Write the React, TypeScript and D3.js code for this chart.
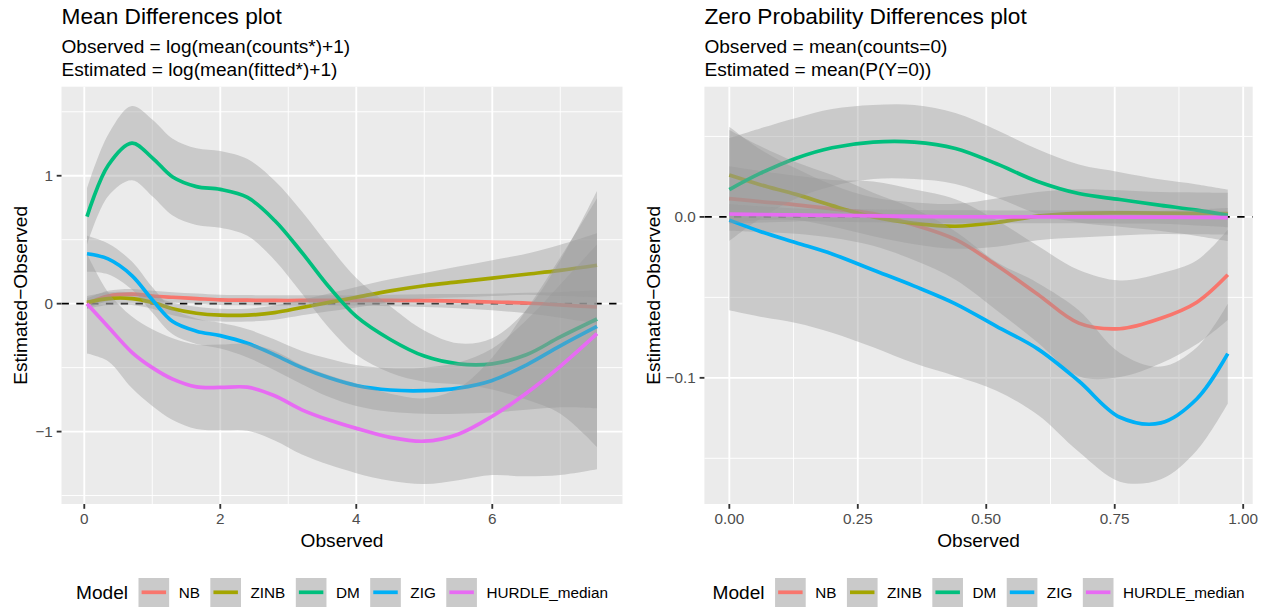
import React from "react";
import * as d3 from "d3";

// ---------- data ----------
const MODELS = ["NB", "ZINB", "DM", "ZIG", "HURDLE_median"];
const COLORS = ["#F8766D", "#A3A500", "#00BF7D", "#00B0F6", "#E76BF3"];

// Left panel: Mean Differences
const leftObserved = [0.04, 0.35, 0.7, 1.0, 1.3, 1.65, 2.0, 2.4, 2.8, 3.2, 3.6, 4.0, 4.5, 5.0, 5.5, 6.0, 6.5, 7.0, 7.54];
const leftNB = [0.0, 0.06, 0.075, 0.06, 0.05, 0.04, 0.03, 0.027, 0.025, 0.025, 0.025, 0.025, 0.025, 0.024, 0.02, 0.013, 0.005, -0.01, -0.026];
const leftNBBand = [0.04, 0.04, 0.04, 0.04, 0.04, 0.04, 0.04, 0.04, 0.04, 0.04, 0.04, 0.04, 0.045, 0.05, 0.055, 0.065, 0.08, 0.1, 0.13];
const leftZINB = [0.01, 0.04, 0.04, 0.01, -0.04, -0.075, -0.09, -0.09, -0.07, -0.03, 0.01, 0.05, 0.1, 0.14, 0.17, 0.2, 0.23, 0.26, 0.3];
const leftZINBBand = [0.05, 0.05, 0.05, 0.05, 0.05, 0.05, 0.05, 0.05, 0.055, 0.06, 0.07, 0.08, 0.09, 0.1, 0.12, 0.14, 0.16, 0.2, 0.25];
const leftDM = [0.68, 1.08, 1.255, 1.14, 0.99, 0.915, 0.893, 0.83, 0.65, 0.4, 0.13, -0.1, -0.28, -0.41, -0.47, -0.47, -0.4, -0.26, -0.12];
const leftDMBand = [0.22, 0.24, 0.29, 0.3, 0.3, 0.3, 0.3, 0.3, 0.31, 0.32, 0.32, 0.3, 0.26, 0.2, 0.16, 0.2, 0.35, 0.6, 1.0];
const leftZIG = [0.39, 0.35, 0.22, 0.03, -0.14, -0.215, -0.25, -0.31, -0.4, -0.5, -0.58, -0.64, -0.675, -0.68, -0.66, -0.6, -0.48, -0.33, -0.178];
const leftZIGBand = [0.14, 0.12, 0.11, 0.1, 0.1, 0.1, 0.1, 0.11, 0.12, 0.13, 0.15, 0.16, 0.17, 0.18, 0.2, 0.25, 0.35, 0.48, 0.64];
const leftHurdle = [0.0, -0.18, -0.38, -0.5, -0.59, -0.65, -0.655, -0.653, -0.72, -0.83, -0.91, -0.975, -1.045, -1.075, -1.02, -0.88, -0.7, -0.49, -0.235];
const leftHurdleBand = [0.39, 0.27, 0.28, 0.3, 0.32, 0.33, 0.335, 0.34, 0.35, 0.35, 0.35, 0.35, 0.34, 0.335, 0.36, 0.46, 0.65, 0.85, 1.06];

// Right panel: Zero Probability Differences
const rightObserved = [0, 0.06, 0.13, 0.2, 0.28, 0.36, 0.44, 0.52, 0.6, 0.68, 0.76, 0.84, 0.91, 0.97];
const rightNB = [0.0114, 0.0095, 0.0075, 0.005, 0.002, -0.005, -0.014, -0.03, -0.048, -0.066, -0.0695, -0.063, -0.053, -0.036];
const rightNBBand = [0.02, 0.019, 0.018, 0.018, 0.02, 0.022, 0.025, 0.028, 0.03, 0.033, 0.03, 0.028, 0.026, 0.028];
const rightZINB = [0.026, 0.02, 0.014, 0.007, 0.0, -0.004, -0.0058, -0.0035, 0.0005, 0.0022, 0.0025, 0.0024, 0.0022, 0.002];
const rightZINBBand = [0.03, 0.022, 0.016, 0.013, 0.012, 0.013, 0.014, 0.015, 0.015, 0.015, 0.014, 0.013, 0.013, 0.013];
const rightDM = [0.017, 0.027, 0.0365, 0.043, 0.0465, 0.0465, 0.0425, 0.033, 0.022, 0.0145, 0.0108, 0.0072, 0.0042, 0.001];
const rightDMBand = [0.032, 0.028, 0.025, 0.024, 0.023, 0.023, 0.022, 0.021, 0.02, 0.018, 0.017, 0.016, 0.016, 0.016];
const rightZIG = [-0.002, -0.009, -0.016, -0.023, -0.033, -0.043, -0.054, -0.068, -0.082, -0.102, -0.1245, -0.128, -0.113, -0.085];
const rightZIGBand = [0.056, 0.053, 0.05, 0.049, 0.048, 0.048, 0.045, 0.04, 0.041, 0.044, 0.04, 0.035, 0.032, 0.031];
const rightHurdle = [0.0018, 0.0015, 0.0012, 0.001, 0.0006, 0.0003, 0.0001, 0, 0, 0, -0.0001, -0.0002, -0.0003, -0.0004];
const rightHurdleBand = [0.006, 0.005, 0.004, 0.004, 0.004, 0.004, 0.004, 0.004, 0.004, 0.004, 0.004, 0.004, 0.005, 0.006];

const leftXTicks = [0, 2, 4, 6];
const leftXMinor = [1, 3, 5, 7];
const leftYTicks = [-1, 0, 1];
const leftYMinor = [-1.5, -0.5, 0.5, 1.5];
const rightXTicks = [0, 0.25, 0.5, 0.75, 1.0];
const rightXMinor = [0.125, 0.375, 0.625, 0.875];
const rightYTicks = [-0.1, 0.0];
const rightYMinor = [-0.15, -0.05, 0.05];

// ---------- layout ----------
const W = 1265;
const H = 607;
const FONT = "'Liberation Sans', Arial, Helvetica, sans-serif";
const PANEL_TOP = 86.7;
const PANEL_BOTTOM = 504;
const S_TITLE = 22.7;
const S_BASE = 19.1;
const S_SMALL = 15.3;
const LINE_W = 3.7;
const GRID_W = 1.85;

const fmtMinus = (s: string) => s.replace("-", "\u2212");

let ctx: CanvasRenderingContext2D | null = null;
function textWidth(t: string, size: number) {
  if (!ctx) {
    const c = document.createElement("canvas");
    ctx = c.getContext("2d");
  }
  if (!ctx) return t.length * size * 0.55;
  ctx.font = `${size}px 'Liberation Sans', Arial, sans-serif`;
  return ctx.measureText(t).width;
}

type Series = { mean: number[]; band: number[] };

type PanelProps = {
  id: string;
  title: string;
  sub1: string;
  sub2: string;
  xs: number[];
  series: Series[];
  x0: number;
  x1: number;
  yDomain: [number, number];
  xTicks: number[];
  xMinor: number[];
  xFmt: (v: number) => string;
  yTicks: number[];
  yMinor: number[];
  yFmt: (v: number) => string;
  yTitleX: number;
};

function Panel(p: PanelProps) {
  const xmin = d3.min(p.xs) as number;
  const xmax = d3.max(p.xs) as number;
  const pad = (xmax - xmin) * 0.05;
  const x = d3.scaleLinear().domain([xmin - pad, xmax + pad]).range([p.x0, p.x1]);
  const y = d3.scaleLinear().domain(p.yDomain).range([PANEL_BOTTOM, PANEL_TOP]);
  const curve = d3.curveCatmullRom.alpha(0.5);
  const area = d3
    .area<number>()
    .x((_, i) => x(p.xs[i]))
    .curve(curve);
  const line = d3
    .line<number>()
    .x((_, i) => x(p.xs[i]))
    .curve(curve);
  const cx = (p.x0 + p.x1) / 2;
  const cy = (PANEL_TOP + PANEL_BOTTOM) / 2;
  const clipId = `clip-${p.id}`;

  // legend layout
  const keyW = 30.6;
  const keyH = 30.6;
  const titleGap = 10.5;
  const keyLabelGap = 9.5;
  const itemGap = 10.5;
  const titleW = textWidth("Model", S_BASE);
  const labelW = MODELS.map((m) => textWidth(m, S_SMALL));
  const total =
    titleW + titleGap + MODELS.length * (keyW + keyLabelGap) + d3.sum(labelW) + (MODELS.length - 1) * itemGap;
  let lx = cx - total / 2;
  const legendTitleX = lx;
  lx += titleW + titleGap;
  const keyY = 578;
  const items = MODELS.map((m, i) => {
    const kx = lx;
    const tx = kx + keyW + keyLabelGap;
    lx = tx + labelW[i] + itemGap;
    return { m, kx, tx, color: COLORS[i] };
  });

  return (
    <g>
      <defs>
        <clipPath id={clipId}>
          <rect x={p.x0} y={PANEL_TOP} width={p.x1 - p.x0} height={PANEL_BOTTOM - PANEL_TOP} />
        </clipPath>
      </defs>
      {/* titles */}
      <text x={p.x0} y={24} fontSize={S_TITLE} fontFamily={FONT} fill="#000">
        {p.title}
      </text>
      <text x={p.x0} y={53.3} fontSize={S_BASE} fontFamily={FONT} fill="#000">
        {p.sub1}
      </text>
      <text x={p.x0} y={76} fontSize={S_BASE} fontFamily={FONT} fill="#000">
        {p.sub2}
      </text>
      {/* panel */}
      <rect x={p.x0} y={PANEL_TOP} width={p.x1 - p.x0} height={PANEL_BOTTOM - PANEL_TOP} fill="#EBEBEB" />
      {p.yMinor.map((v) => (
        <line key={"ym" + v} x1={p.x0} x2={p.x1} y1={y(v)} y2={y(v)} stroke="#fff" strokeWidth={GRID_W / 2} />
      ))}
      {p.xMinor.map((v) => (
        <line key={"xm" + v} y1={PANEL_TOP} y2={PANEL_BOTTOM} x1={x(v)} x2={x(v)} stroke="#fff" strokeWidth={GRID_W / 2} />
      ))}
      {p.yTicks.map((v) => (
        <line key={"yM" + v} x1={p.x0} x2={p.x1} y1={y(v)} y2={y(v)} stroke="#fff" strokeWidth={GRID_W} />
      ))}
      {p.xTicks.map((v) => (
        <line key={"xM" + v} y1={PANEL_TOP} y2={PANEL_BOTTOM} x1={x(v)} x2={x(v)} stroke="#fff" strokeWidth={GRID_W} />
      ))}
      <g clipPath={`url(#${clipId})`}>
        <line x1={p.x0} x2={p.x1} y1={y(0)} y2={y(0)} stroke="#000" strokeWidth={1.85} strokeDasharray="7.4,7.4" />
        {p.series.map((s, i) => {
          const a = area.y0((_, j) => y(s.mean[j] - s.band[j])).y1((_, j) => y(s.mean[j] + s.band[j]));
          const l = line.y((_, j) => y(s.mean[j]));
          return (
            <g key={i}>
              <path d={a(s.mean) || ""} fill="#999999" fillOpacity={0.4} stroke="none" />
              <path d={l(s.mean) || ""} fill="none" stroke={COLORS[i]} strokeWidth={LINE_W} />
            </g>
          );
        })}
      </g>
      {/* axes */}
      {p.yTicks.map((v) => (
        <g key={"yt" + v}>
          <line x1={p.x0 - 4.8} x2={p.x0} y1={y(v)} y2={y(v)} stroke="#333333" strokeWidth={1.85} />
          <text x={p.x0 - 8.6} y={y(v) + 5.4} textAnchor="end" fontSize={S_SMALL} fontFamily={FONT} fill="#4D4D4D">
            {p.yFmt(v)}
          </text>
        </g>
      ))}
      {p.xTicks.map((v) => (
        <g key={"xt" + v}>
          <line x1={x(v)} x2={x(v)} y1={PANEL_BOTTOM} y2={PANEL_BOTTOM + 4.8} stroke="#333333" strokeWidth={1.85} />
          <text x={x(v)} y={524} textAnchor="middle" fontSize={S_SMALL} fontFamily={FONT} fill="#4D4D4D">
            {p.xFmt(v)}
          </text>
        </g>
      ))}
      <text x={cx} y={546.7} textAnchor="middle" fontSize={S_BASE} fontFamily={FONT} fill="#000">
        Observed
      </text>
      <text
        transform={`translate(${p.yTitleX},${cy}) rotate(-90)`}
        textAnchor="middle"
        fontSize={S_BASE}
        fontFamily={FONT}
        fill="#000"
      >
        {"Estimated\u2212Observed"}
      </text>
      {/* legend */}
      <text x={legendTitleX} y={599.3} fontSize={S_BASE} fontFamily={FONT} fill="#000">
        Model
      </text>
      {items.map((it) => (
        <g key={it.m}>
          <rect x={it.kx} y={keyY} width={keyW} height={keyH} fill="#EBEBEB" />
          <rect x={it.kx} y={keyY} width={keyW} height={keyH} fill="#999999" fillOpacity={0.4} />
          <line
            x1={it.kx + keyW * 0.1}
            x2={it.kx + keyW * 0.9}
            y1={keyY + keyH / 2 - 1}
            y2={keyY + keyH / 2 - 1}
            stroke={it.color}
            strokeWidth={LINE_W}
          />
          <text x={it.tx} y={597.5} fontSize={S_SMALL} fontFamily={FONT} fill="#000">
            {it.m}
          </text>
        </g>
      ))}
    </g>
  );
}

export default function App() {
  const leftSeries: Series[] = [
    { mean: leftNB, band: leftNBBand },
    { mean: leftZINB, band: leftZINBBand },
    { mean: leftDM, band: leftDMBand },
    { mean: leftZIG, band: leftZIGBand },
    { mean: leftHurdle, band: leftHurdleBand },
  ];
  const rightSeries: Series[] = [
    { mean: rightNB, band: rightNBBand },
    { mean: rightZINB, band: rightZINBBand },
    { mean: rightDM, band: rightDMBand },
    { mean: rightZIG, band: rightZIGBand },
    { mean: rightHurdle, band: rightHurdleBand },
  ];
  return (
    <svg
      width={W}
      height={H}
      viewBox={`0 0 ${W} ${H}`}
      style={{ position: "absolute", left: 0, top: 0, background: "#fff", overflow: "hidden" }}
    >
      <rect x={0} y={0} width={W} height={H} fill="#fff" />
      <Panel
        id="left"
        title="Mean Differences plot"
        sub1="Observed = log(mean(counts*)+1)"
        sub2="Estimated = log(mean(fitted*)+1)"
        xs={leftObserved}
        series={leftSeries}
        x0={61.5}
        x1={622.5}
        yDomain={[-1.566, 1.696]}
        xTicks={leftXTicks}
        xMinor={leftXMinor}
        xFmt={(v) => d3.format("d")(v)}
        yTicks={leftYTicks}
        yMinor={leftYMinor}
        yFmt={(v) => fmtMinus(d3.format("d")(v))}
        yTitleX={26.5}
      />
      <Panel
        id="right"
        title="Zero Probability Differences plot"
        sub1="Observed = mean(counts=0)"
        sub2="Estimated = mean(P(Y=0))"
        xs={rightObserved}
        series={rightSeries}
        x0={704.4}
        x1={1252.7}
        yDomain={[-0.1784, 0.0809]}
        xTicks={rightXTicks}
        xMinor={rightXMinor}
        xFmt={(v) => d3.format(".2f")(v)}
        yTicks={rightYTicks}
        yMinor={rightYMinor}
        yFmt={(v) => fmtMinus(d3.format(".1f")(v))}
        yTitleX={660}
      />
    </svg>
  );
}
